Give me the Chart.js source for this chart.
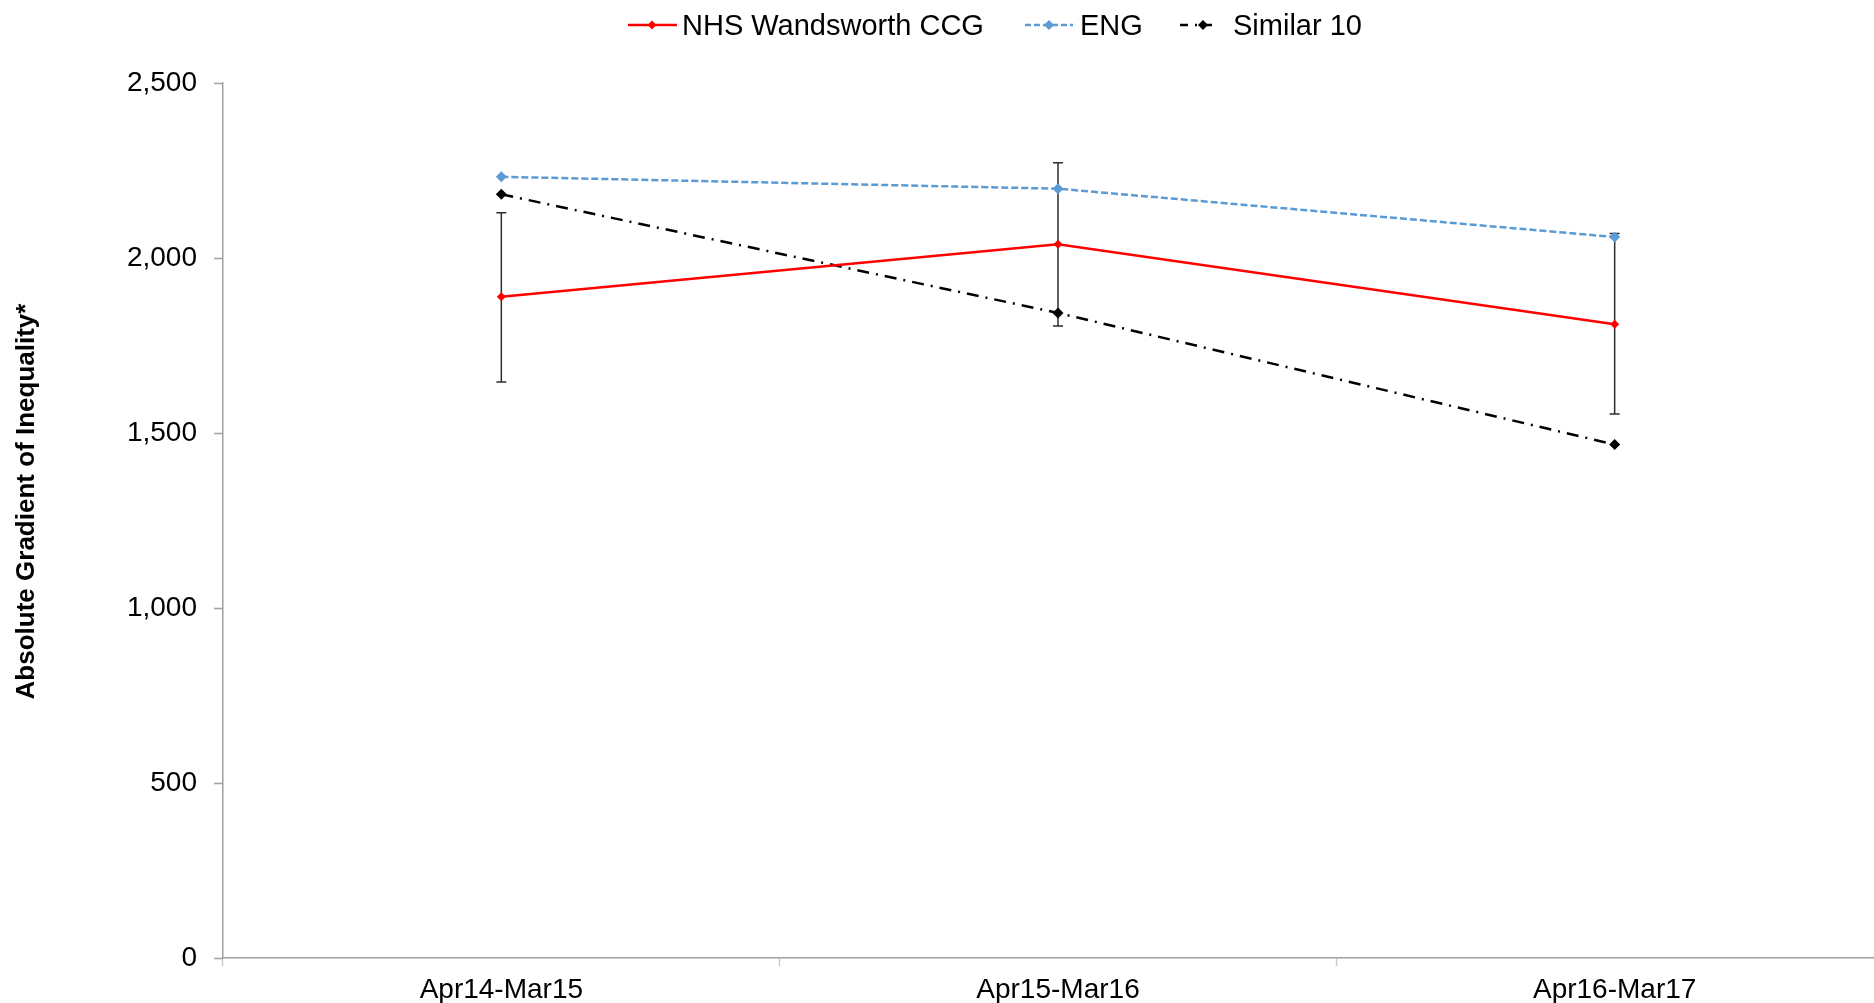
<!DOCTYPE html>
<html>
<head>
<meta charset="utf-8">
<script src="https://cdn.jsdelivr.net/npm/chart.js@4.4.1/dist/chart.umd.min.js"></script>
<style>
  body { margin: 0; background: #fff; overflow: hidden; }
  #wrap { position: relative; width: 1874px; height: 1003px; overflow: hidden; }
  #chart { position: absolute; left: 0; top: 0; }
  .lg-text { position: absolute; top: 9px; font-family: "Liberation Sans", Arial, sans-serif; font-size: 29px; line-height: 32px; color: #000; white-space: nowrap; }
  .lg-mark { position: absolute; top: 18px; }
</style>
</head>
<body>
<div id="wrap">
  <canvas id="chart" width="1900" height="1003"></canvas>
  <!-- legend, drawn as html so it can sit where the original one sits -->
  <svg class="lg-mark" style="left:626px" width="54" height="14">
    <line x1="2" y1="7" x2="51" y2="7" stroke="#ff0000" stroke-width="2.5"/>
    <polygon points="26,2.5 30.5,7 26,11.5 21.5,7" fill="#ff0000"/>
  </svg>
  <span class="lg-text" style="left:682px">NHS Wandsworth CCG</span>
  <svg class="lg-mark" style="left:1023px" width="54" height="14">
    <line x1="2" y1="7" x2="50" y2="7" stroke="#5b9bd5" stroke-width="2.5" stroke-dasharray="6,3"/>
    <polygon points="26,2 31,7 26,12 21,7" fill="#5b9bd5"/>
  </svg>
  <span class="lg-text" style="left:1080px">ENG</span>
  <svg class="lg-mark" style="left:1178px" width="44" height="14">
    <line x1="2" y1="7" x2="40" y2="7" stroke="#000" stroke-width="2.5" stroke-dasharray="8,7,2,7"/>
    <polygon points="25,2 30,7 25,12 20,7" fill="#000"/>
  </svg>
  <span class="lg-text" style="left:1233px">Similar 10</span>
</div>
<script>
const categories = ["Apr14-Mar15", "Apr15-Mar16", "Apr16-Mar17"];
const wandsworth = [1889, 2039, 1811];
const wandsLower = [1646, 1806, 1554];
const wandsUpper = [2129, 2272, 2070];
const england = [2232, 2198, 2060];
const similar10 = [2182, 1843, 1467];

const yMin = 0;
const yMax = 2500;
const yStep = 500;
const yTitle = "Absolute Gradient of Inequality*";

const FONT = "'Liberation Sans', Arial, sans-serif";

// confidence interval whiskers for the CCG line
const errorBars = {
  id: "errorBars",
  beforeDatasetsDraw(chart) {
    const ctx = chart.ctx;
    const y = chart.scales.y;
    const pts = chart.getDatasetMeta(0).data;
    ctx.save();
    ctx.strokeStyle = "#2e2e2e";
    ctx.lineWidth = 1.5;
    pts.forEach((p, i) => {
      const top = y.getPixelForValue(wandsUpper[i]);
      const bot = y.getPixelForValue(wandsLower[i]);
      ctx.beginPath();
      ctx.moveTo(p.x, top);
      ctx.lineTo(p.x, bot);
      ctx.moveTo(p.x - 5, top);
      ctx.lineTo(p.x + 5, top);
      ctx.moveTo(p.x - 5, bot);
      ctx.lineTo(p.x + 5, bot);
      ctx.stroke();
    });
    ctx.restore();
  },
};

// the axis title sits a bit above the middle of the axis in the original
const axisTitle = {
  id: "axisTitle",
  afterDraw(chart) {
    const ctx = chart.ctx;
    const area = chart.chartArea;
    ctx.save();
    ctx.translate(27, (area.top + area.bottom) / 2 - 19);
    ctx.rotate(-Math.PI / 2);
    ctx.font = "bold 26px " + FONT;
    ctx.fillStyle = "#000";
    ctx.textAlign = "center";
    ctx.textBaseline = "middle";
    ctx.fillText(yTitle, 0, 0);
    ctx.restore();
  },
};

new Chart(document.getElementById("chart"), {
  type: "line",
  data: {
    labels: categories,
    datasets: [
      {
        label: "NHS Wandsworth CCG",
        data: wandsworth,
        borderColor: "#ff0000",
        backgroundColor: "#ff0000",
        borderWidth: 2.5,
        pointStyle: "rectRot",
        pointRadius: 4.5,
        pointBorderWidth: 0,
        tension: 0,
      },
      {
        label: "ENG",
        data: england,
        borderColor: "#5b9bd5",
        backgroundColor: "#5b9bd5",
        borderWidth: 2.5,
        borderDash: [7, 3],
        pointStyle: "rectRot",
        pointRadius: 5.5,
        pointBorderWidth: 0,
        tension: 0,
      },
      {
        label: "Similar 10",
        data: similar10,
        borderColor: "#000000",
        backgroundColor: "#000000",
        borderWidth: 2.5,
        borderDash: [12, 7, 2, 7],
        pointStyle: "rectRot",
        pointRadius: 5.5,
        pointBorderWidth: 0,
        tension: 0,
      },
    ],
  },
  options: {
    responsive: false,
    animation: false,
    devicePixelRatio: 1,
    layout: { padding: { top: 83, right: 7, bottom: 0, left: 0 } },
    plugins: {
      legend: { display: false },
      tooltip: { enabled: false },
    },
    scales: {
      x: {
        type: "category",
        offset: true,
        afterFit: (scale) => { scale.height = 45; },
        grid: {
          offset: true,
          drawOnChartArea: false,
          drawTicks: true,
          tickLength: 8,
          tickColor: "#c8c8c8",
          tickWidth: 1.5,
        },
        border: { display: true, color: "#a0a0a0", width: 1.5 },
        ticks: {
          color: "#000",
          padding: 7,
          maxRotation: 0,
          font: { family: FONT, size: 28 },
        },
      },
      y: {
        min: yMin,
        max: yMax,
        afterFit: (scale) => { scale.width = 223; },
        grid: {
          drawOnChartArea: false,
          drawTicks: true,
          tickLength: 9,
          tickColor: "#a0a0a0",
          tickWidth: 1.5,
        },
        border: { display: true, color: "#a0a0a0", width: 1.5 },
        ticks: {
          stepSize: yStep,
          color: "#000",
          padding: 17,
          font: { family: FONT, size: 28 },
          callback: (v) => v.toLocaleString("en-GB"),
        },
      },
    },
  },
  plugins: [errorBars, axisTitle],
});
</script>
</body>
</html>
